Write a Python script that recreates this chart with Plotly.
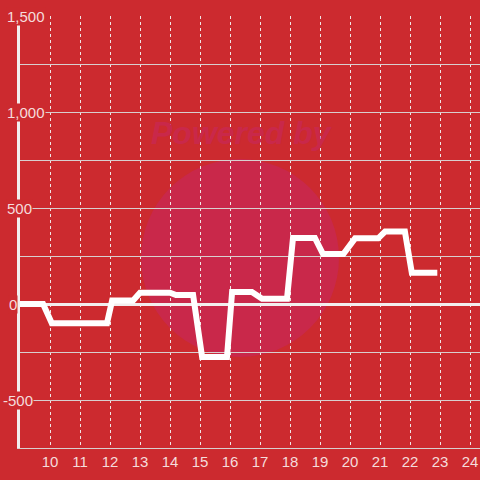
import plotly.graph_objects as go

# Data (hour of day, value)
hours = [9.0, 9.77, 10.06, 11.9, 12.07, 12.77, 13.0, 14.0, 14.2, 14.77, 15.07,
         15.9, 16.07, 16.73, 17.07, 17.9, 18.1, 18.83, 19.1, 19.78, 20.17,
         20.94, 21.17, 21.83, 22.06, 22.91]
values = [0, 0, -100, -100, 18, 18, 59, 59, 47, 47, -276,
          -276, 62, 62, 27, 27, 344, 344, 260, 260, 342,
          342, 377, 377, 163, 163]

y_tick_values = [1500, 1000, 500, 0, -500]
y_tick_labels = ["1,500", "1,000", "500", "0", "-500"]
x_tick_values = list(range(10, 25))
x_tick_labels = [str(v) for v in x_tick_values]

BG = "#cc2a2f"
TXT = "#f5dcdc"
L, R, T, B = 20, 0, 16, 32
W = H = 480
PW = W - L - R
PH = H - T - B

fig = go.Figure()
fig.add_trace(go.Scatter(
    x=hours, y=values, mode="lines",
    line=dict(color="white", width=6),
    hoverinfo="skip", showlegend=False,
))

# watermark
cx, cy, r = 240, 258, 99
fig.add_shape(type="circle", xref="paper", yref="paper", layer="below",
              x0=(cx - r - L) / PW, x1=(cx + r - L) / PW,
              y0=(H - B - (cy + r)) / PH, y1=(H - B - (cy - r)) / PH,
              fillcolor="#c9284a", line=dict(width=0))

annotations = [dict(
    text="<b><i>Powered by</i></b>", xref="paper", yref="paper",
    x=(242 - L) / PW, y=(H - B - 133) / PH, xanchor="center", yanchor="middle",
    showarrow=False,
    font=dict(family="Liberation Sans", size=32, color="#c9284a"),
)]

# y tick labels with background (occluding axis line like the reference)
left_px = {"1,500": 6, "1,000": 6, "500": 6, "0": 8, "-500": 2}
for v, lab in zip(y_tick_values, y_tick_labels):
    annotations.append(dict(
        text=lab, xref="paper", yref="y", x=(left_px[lab] - L) / PW, y=v,
        xanchor="left", yanchor="middle", showarrow=False, bgcolor=BG,
        borderpad=0, font=dict(family="Liberation Sans", size=15, color=TXT),
    ))

fig.update_layout(
    width=W, height=H, margin=dict(l=L, r=R, t=T, b=B),
    paper_bgcolor=BG, plot_bgcolor=BG,
    annotations=annotations,
    xaxis=dict(
        range=[9, 9 + PW / 30], tickvals=x_tick_values, ticktext=x_tick_labels,
        showgrid=True, gridcolor="#f0e6e6", gridwidth=1, griddash="3px,3px",
        showline=True, linecolor="#d8cfcf", linewidth=1, zeroline=False,
        ticks="", tickfont=dict(family="Liberation Sans", size=15, color=TXT),
        fixedrange=True,
    ),
    yaxis=dict(
        range=[-750, 1500], dtick=250, showticklabels=False,
        showgrid=True, gridcolor="#d8cfcf", gridwidth=1,
        zeroline=True, zerolinecolor="#f2eeee", zerolinewidth=3,
        showline=True, linecolor="#f2eeee", linewidth=3, ticks="",
        fixedrange=True,
    ),
)

fig.write_html("out.html", config={"displayModeBar": False},
               post_script="document.body.style.margin='0';")
